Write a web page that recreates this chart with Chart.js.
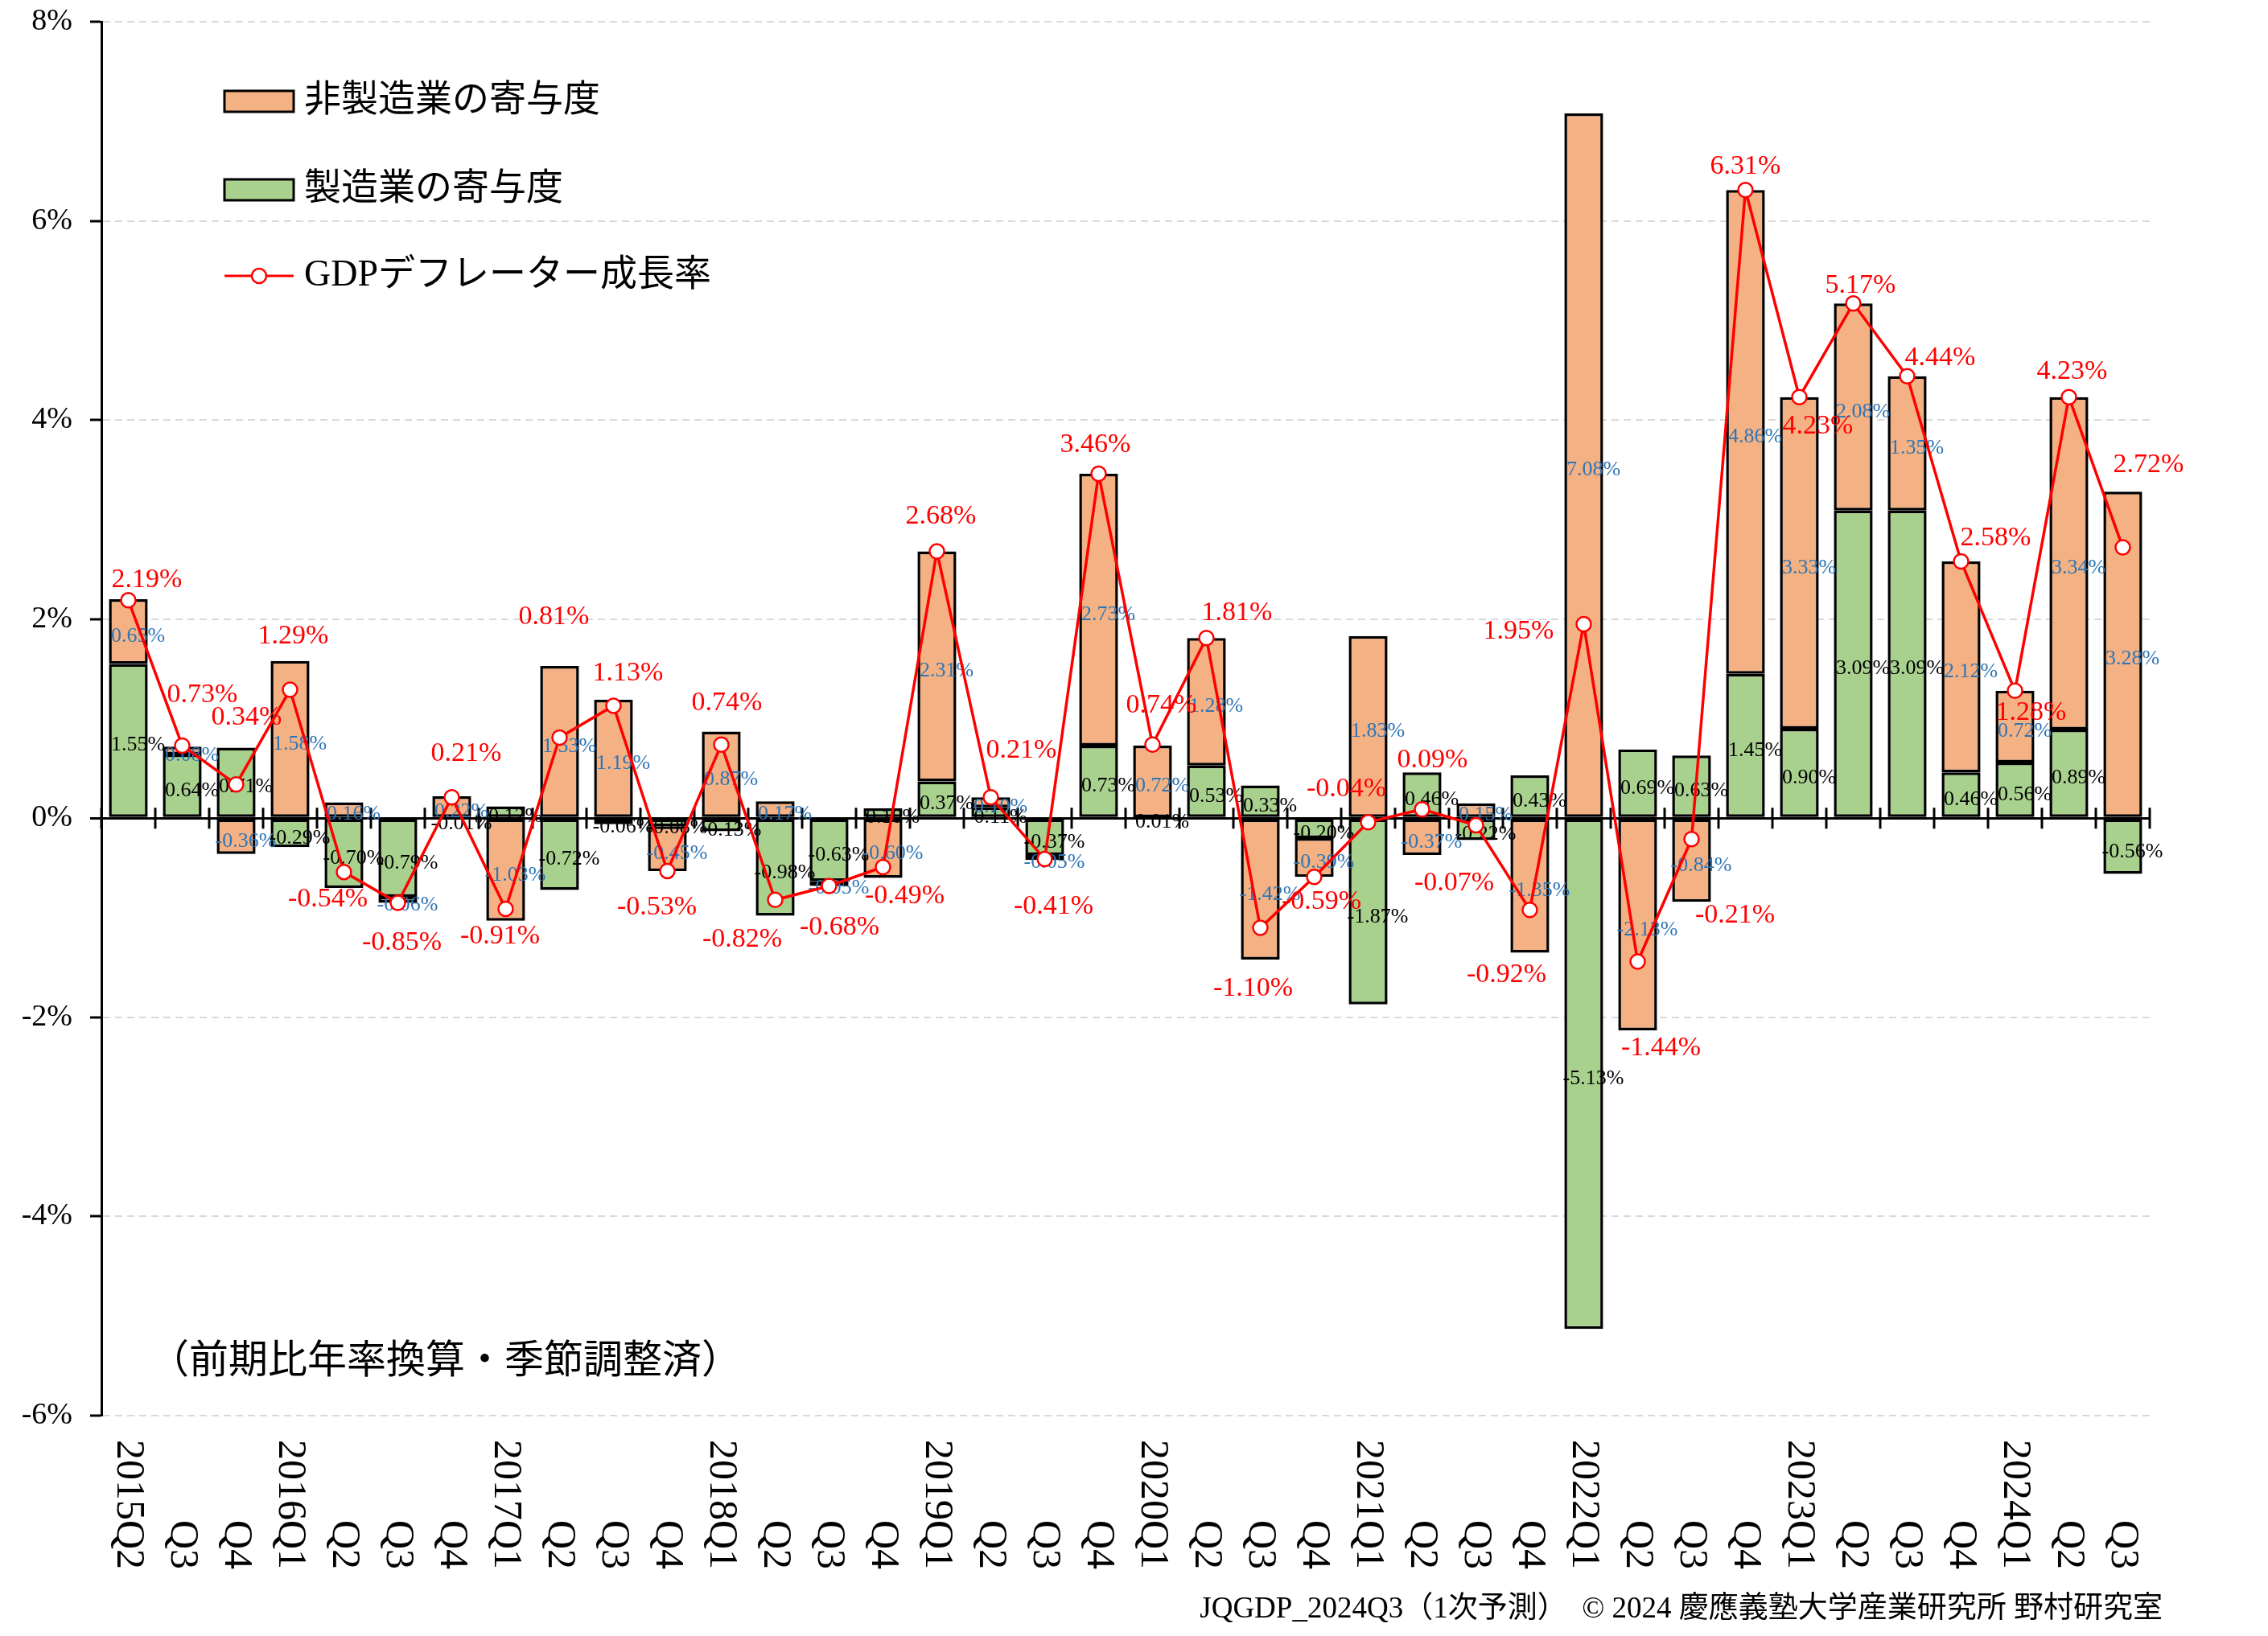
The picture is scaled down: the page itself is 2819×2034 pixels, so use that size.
<!DOCTYPE html>
<html lang="ja">
<head>
<meta charset="utf-8">
<title>GDPデフレーター成長率</title>
<script src="https://cdn.jsdelivr.net/npm/chart.js@4.4.1/dist/chart.umd.min.js"></script>
<style>
  html, body { margin: 0; padding: 0; background: #fff; }
  #wrap { position: relative; width: 2819px; height: 2034px; }
</style>
</head>
<body>
<div id="wrap"><canvas id="deflatorChart"></canvas></div>
<script>
// 四半期ラベル
const quarters = [
    '2015Q2', 'Q3', 'Q4',
    '2016Q1', 'Q2', 'Q3', 'Q4',
    '2017Q1', 'Q2', 'Q3', 'Q4',
    '2018Q1', 'Q2', 'Q3', 'Q4',
    '2019Q1', 'Q2', 'Q3', 'Q4',
    '2020Q1', 'Q2', 'Q3', 'Q4',
    '2021Q1', 'Q2', 'Q3', 'Q4',
    '2022Q1', 'Q2', 'Q3', 'Q4',
    '2023Q1', 'Q2', 'Q3', 'Q4',
    '2024Q1', 'Q2', 'Q3'
];

// 製造業の寄与度 (%)
const manufacturing = [
    1.55, 0.64, 0.71,
    -0.29, -0.70, -0.79, -0.01,
    0.12, -0.72, -0.06, -0.08,
    -0.13, -0.98, -0.63, 0.10,
    0.37, 0.11, -0.37, 0.73,
    0.01, 0.53, 0.33, -0.20,
    -1.87, 0.46, -0.22, 0.43,
    -5.13, 0.69, 0.63, 1.45,
    0.90, 3.09, 3.09, 0.46,
    0.56, 0.89, -0.56
];

// 非製造業の寄与度 (%)
const nonManufacturing = [
    0.65, 0.08, -0.36,
    1.58, 0.16, -0.06, 0.22,
    -1.03, 1.53, 1.19, -0.45,
    0.87, 0.17, -0.05, -0.60,
    2.31, 0.10, -0.05, 2.73,
    0.72, 1.28, -1.42, -0.39,
    1.83, -0.37, 0.15, -1.35,
    7.08, -2.13, -0.84, 4.86,
    3.33, 2.08, 1.35, 2.12,
    0.72, 3.34, 3.28
];

// GDPデフレーター成長率 (%)
const gdpDeflator = [
    2.19, 0.73, 0.34,
    1.29, -0.54, -0.85, 0.21,
    -0.91, 0.81, 1.13, -0.53,
    0.74, -0.82, -0.68, -0.49,
    2.68, 0.21, -0.41, 3.46,
    0.74, 1.81, -1.10, -0.59,
    -0.04, 0.09, -0.07, -0.92,
    1.95, -1.44, -0.21, 6.31,
    4.23, 5.17, 4.44, 2.58,
    1.28, 4.23, 2.72
];

const yTickValues = [-6, -4, -2, 0, 2, 4, 6, 8];

// 赤ラベルの位置ずらし (px)
const gdpLabelOffsets = [
    [23, -25], [25, -63], [13, -83],
    [4, -67], [-20, 34], [5, 50], [18, -54],
    [-7, 34], [-7, -150], [18, -40], [-13, 45],
    [7, -52], [-41, 49], [13, 52], [27, 36],
    [5, -43], [38, -58], [11, 59], [-4, -36],
    [11, -49], [38, -31], [-9, 76], [9, 31],
    [-27, -41], [13, -61], [-27, 72], [-29, 81],
    [-81, 9], [29, 108], [54, 95], [0, -29],
    [23, 36], [9, -22], [41, -23], [43, -29],
    [20, 27], [4, -32], [32, -103]
];

const SERIF = '"Liberation Serif", "Noto Sans CJK JP", serif';
const ORANGE = '#F4B183';
const GREEN = '#A9D18E';
const RED = '#FF0000';

const fmt = v => v.toFixed(2) + '%';

const decorPlugin = {
    id: 'decor',
    beforeDatasetsDraw(chart) {
        // 0%線上の目盛り (区切り位置)
        const ctx = chart.ctx;
        const x = chart.scales.x;
        const y0 = chart.scales.y.getPixelForValue(0);
        const half = (x.getPixelForValue(1) - x.getPixelForValue(0)) / 2;
        ctx.save();
        ctx.strokeStyle = '#000';
        ctx.lineWidth = 3;
        for (let i = 0; i <= quarters.length; i++) {
            const px = x.getPixelForValue(i) - half;
            ctx.beginPath();
            ctx.moveTo(px, y0 - 13);
            ctx.lineTo(px, y0 + 13);
            ctx.stroke();
        }
        ctx.restore();
    },
    beforeDatasetDraw(chart, args) {
        if (args.index !== 2) return;
        // 寄与度ラベル (折れ線の下に描く)
        const ctx = chart.ctx;
        ctx.save();
        ctx.font = '26px ' + SERIF;
        ctx.textAlign = 'center';
        ctx.textBaseline = 'middle';
        [[0, manufacturing, '#000'], [1, nonManufacturing, '#2E75B6']].forEach(([idx, values, color]) => {
            ctx.fillStyle = color;
            chart.getDatasetMeta(idx).data.forEach((bar, i) => {
                const cy = (bar.y + bar.base) / 2;
                ctx.fillText(fmt(values[i]), bar.x + 12, cy + 6);
            });
        });
        ctx.restore();
    },
    afterDatasetsDraw(chart) {
        const ctx = chart.ctx;
        ctx.save();
        ctx.font = '34px ' + SERIF;
        ctx.textAlign = 'center';
        ctx.textBaseline = 'middle';
        ctx.fillStyle = RED;
        chart.getDatasetMeta(2).data.forEach((pt, i) => {
            const [dx, dy] = gdpLabelOffsets[i];
            ctx.fillText(fmt(gdpDeflator[i]), pt.x + dx, pt.y + dy);
        });
        ctx.restore();
    },
    afterDraw(chart) {
        const ctx = chart.ctx;
        const x = chart.scales.x;
        ctx.save();

        // 横軸ラベル (縦書き、下揃え)
        ctx.fillStyle = '#000';
        ctx.font = '50px ' + SERIF;
        ctx.textAlign = 'right';
        ctx.textBaseline = 'middle';
        quarters.forEach((q, i) => {
            ctx.save();
            ctx.translate(x.getPixelForValue(i), 1951);
            ctx.rotate(Math.PI / 2);
            ctx.fillText(q, 0, 0);
            ctx.restore();
        });

        // 凡例
        ctx.textAlign = 'left';
        ctx.font = '46px ' + SERIF;
        const items = [
            { fill: ORANGE, text: '非製造業の寄与度', y: 126 },
            { fill: GREEN, text: '製造業の寄与度', y: 236 }
        ];
        items.forEach(it => {
            ctx.fillStyle = it.fill;
            ctx.fillRect(279, it.y - 13, 86, 26);
            ctx.strokeStyle = '#000';
            ctx.lineWidth = 3;
            ctx.strokeRect(279, it.y - 13, 86, 26);
            ctx.fillStyle = '#000';
            ctx.fillText(it.text, 378, it.y);
        });
        ctx.strokeStyle = RED;
        ctx.lineWidth = 3;
        ctx.beginPath();
        ctx.moveTo(279, 343);
        ctx.lineTo(365, 343);
        ctx.stroke();
        ctx.beginPath();
        ctx.arc(322, 343, 9, 0, Math.PI * 2);
        ctx.fillStyle = '#fff';
        ctx.fill();
        ctx.lineWidth = 2.5;
        ctx.stroke();
        ctx.fillStyle = '#000';
        ctx.fillText('GDPデフレーター成長率', 378, 343);

        // 注記
        ctx.font = '49px ' + SERIF;
        ctx.fillText('（前期比年率換算・季節調整済）', 186, 1694);

        // 出典
        ctx.font = '37px ' + SERIF;
        ctx.textAlign = 'right';
        ctx.fillText('JQGDP_2024Q3（1次予測）　© 2024 慶應義塾大学産業研究所 野村研究室', 2688, 2001);
        ctx.restore();
    }
};

new Chart(document.getElementById('deflatorChart').getContext('2d'), {
    type: 'bar',
    data: {
        labels: quarters,
        datasets: [
            {
                label: '製造業の寄与度',
                data: manufacturing,
                backgroundColor: GREEN,
                borderColor: '#000',
                borderWidth: 3.5,
                borderSkipped: false,
                stack: 'contrib',
                order: 1,
                barPercentage: 0.72,
                categoryPercentage: 1.0
            },
            {
                label: '非製造業の寄与度',
                data: nonManufacturing,
                backgroundColor: ORANGE,
                borderColor: '#000',
                borderWidth: 3.5,
                borderSkipped: false,
                stack: 'contrib',
                order: 1,
                barPercentage: 0.72,
                categoryPercentage: 1.0
            },
            {
                type: 'line',
                label: 'GDPデフレーター成長率',
                data: gdpDeflator,
                borderColor: RED,
                borderWidth: 3.5,
                tension: 0,
                pointRadius: 9,
                pointBackgroundColor: '#fff',
                pointBorderColor: RED,
                pointBorderWidth: 2.5,
                stack: 'gdp',
                order: 0
            }
        ]
    },
    options: {
        responsive: true,
        maintainAspectRatio: false,
        animation: false,
        devicePixelRatio: 1,
        layout: { padding: { left: 0, right: 147, top: 27, bottom: 274 } },
        plugins: {
            legend: { display: false },
            tooltip: { enabled: false }
        },
        scales: {
            x: {
                stacked: true,
                offset: true,
                grid: { display: false, drawTicks: false },
                border: { display: false },
                ticks: { display: false },
                afterFit: scale => { scale.height = 0; }
            },
            y: {
                stacked: true,
                min: -6,
                max: 8,
                afterBuildTicks: scale => {
                    scale.ticks = yTickValues.map(v => ({ value: v }));
                },
                afterFit: scale => {
                    scale.width = 126;
                    scale.paddingTop = 0;
                    scale.paddingBottom = 0;
                },
                ticks: {
                    padding: 22,
                    color: '#000',
                    font: { family: SERIF, size: 38 },
                    callback: v => v + '%'
                },
                grid: {
                    color: c => c.tick && c.tick.value === 0 ? '#000' : '#D9D9D9',
                    lineWidth: c => c.tick && c.tick.value === 0 ? 3 : 2,
                    tickLength: 14,
                    tickColor: '#000',
                    tickWidth: 3
                },
                border: {
                    display: true,
                    color: '#000',
                    width: 3,
                    dash: c => c.tick && c.tick.value === 0 ? [] : [9, 6]
                }
            }
        }
    },
    plugins: [decorPlugin]
});
</script>
</body>
</html>
